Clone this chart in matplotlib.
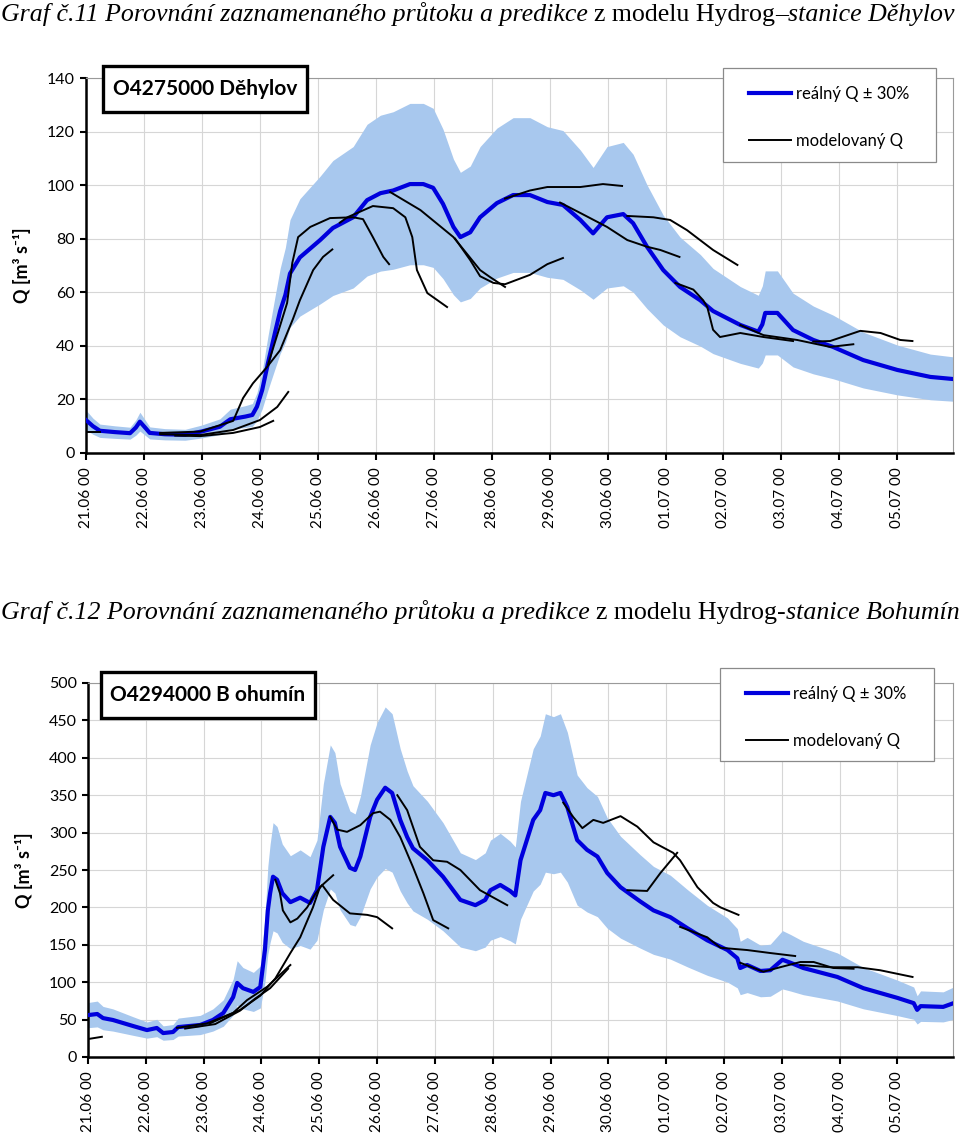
import matplotlib
matplotlib.use("Agg")
import numpy as np
import matplotlib.pyplot as plt
from matplotlib.patches import Rectangle
from matplotlib.lines import Line2D

W, H = 960, 1137

day_labels = ["21.06 00", "22.06 00", "23.06 00", "24.06 00", "25.06 00",
              "26.06 00", "27.06 00", "28.06 00", "29.06 00", "30.06 00",
              "01.07 00", "02.07 00", "03.07 00", "04.07 00", "05.07 00"]

# --- Děhylov: measured Q (days since 21.06 00:00, m3/s)
deh_t = [0.00, 0.12, 0.24, 0.50, 0.76, 0.86, 0.93, 1.02, 1.10, 1.36, 1.71, 1.99,
         2.31, 2.49, 2.75, 2.87, 2.95, 3.04, 3.14, 3.26, 3.35, 3.44, 3.52, 3.69,
         4.04, 4.26, 4.61, 4.85, 5.08, 5.30, 5.59, 5.82, 5.99, 6.16, 6.34, 6.46,
         6.63, 6.80, 7.09, 7.37, 7.66, 7.96, 8.23, 8.53, 8.75, 8.99, 9.27, 9.44,
         9.68, 9.96, 10.25, 10.60, 10.82, 11.29, 11.60, 11.67, 11.72, 11.93, 12.07,
         12.20, 12.55, 12.89, 13.41, 14.00, 14.57, 14.97]
deh_q = [12.3, 10.0, 8.3, 7.8, 7.4, 9.5, 11.7, 9.5, 7.5, 7.0, 6.8, 8.0,
         9.8, 12.6, 13.6, 14.2, 17.3, 23.5, 33.6, 44.8, 53.0, 59.0, 67.0, 73.0,
         79.5, 84.0, 88.0, 94.4, 97.0, 98.0, 100.4, 100.4, 99.0, 93.0, 84.4, 80.6,
         82.4, 88.0, 93.3, 96.3, 96.3, 93.7, 92.6, 87.0, 82.0, 88.0, 89.2, 85.8,
         77.0, 68.3, 62.0, 57.0, 53.0, 47.8, 45.3, 48.0, 52.3, 52.3, 49.0,
         45.9, 42.2, 39.6, 34.7, 31.0, 28.4, 27.6]

# --- Děhylov: model runs (t, Q)
deh_run1 = [(0.00, 7.8), (0.24, 7.8)]
deh_run2 = [(1.28, 7.5), (1.97, 8.0), (2.54, 12.0), (2.71, 20.5), (2.88, 26.0), (3.12, 32.0),
            (3.35, 38.4), (3.57, 50.0), (3.69, 57.0), (3.92, 68.3), (4.09, 73.2), (4.25, 76.0)]
deh_run3 = [(1.28, 7.0), (1.97, 6.7), (2.54, 8.6), (3.00, 12.3), (3.30, 17.2), (3.49, 22.8)]
deh_run4 = [(1.54, 6.5), (1.97, 6.3), (2.54, 7.5), (3.00, 9.7), (3.23, 12.0)]
deh_run5 = [(3.14, 33.0), (3.31, 44.8), (3.47, 56.0), (3.56, 71.0), (3.66, 80.6), (3.87, 84.4),
            (4.21, 87.7), (4.61, 88.0), (4.78, 87.3), (4.95, 80.6), (5.13, 73.2), (5.23, 70.5)]
deh_run6 = [(4.38, 86.0), (4.51, 88.0), (4.95, 92.2), (5.30, 91.4), (5.51, 88.0), (5.63, 80.6),
            (5.71, 68.3), (5.89, 59.7), (6.23, 54.5)]
deh_run7 = [(5.25, 97.4), (5.77, 90.7), (6.34, 80.6), (6.80, 68.3), (6.97, 65.7), (7.23, 62.0)]
deh_run8 = [(6.37, 80.0), (6.63, 72.0), (6.80, 66.0), (7.03, 63.5), (7.23, 63.0), (7.66, 66.5),
            (7.96, 70.5), (8.23, 72.8)]
deh_run9 = [(7.23, 95.0), (7.32, 95.6), (7.66, 98.0), (7.96, 99.3), (8.53, 99.3), (8.92, 100.4),
            (9.25, 99.7)]
deh_run10 = [(8.18, 93.5), (8.53, 89.6), (8.99, 84.4), (9.34, 79.5), (9.68, 77.0), (9.91, 75.8),
             (10.24, 73.2)]
deh_run11 = [(9.34, 88.5), (9.79, 88.0), (10.08, 87.0), (10.37, 83.2), (10.82, 75.8), (11.24, 70.2)]
deh_run12 = [(10.17, 63.5), (10.48, 61.0), (10.65, 57.0), (10.72, 54.5), (10.82, 46.0),
             (10.94, 43.3), (11.29, 44.8), (11.69, 43.3), (12.20, 41.8)]
deh_run13 = [(11.29, 47.8), (11.69, 44.0), (12.27, 42.2), (12.84, 39.6), (13.24, 40.6)]
deh_run14 = [(12.55, 41.6), (12.84, 41.8), (13.36, 45.6), (13.71, 44.8), (14.05, 42.2), (14.26, 41.8)]

# --- Bohumín: measured Q
boh_t = [0.00, 0.16, 0.26, 0.43, 0.78, 1.02, 1.19, 1.30, 1.47, 1.56, 1.94, 2.16,
         2.34, 2.51, 2.58, 2.68, 2.86, 2.98, 3.06, 3.11, 3.15, 3.20, 3.27, 3.36,
         3.50, 3.67, 3.84, 3.96, 4.07, 4.19, 4.27, 4.36, 4.53, 4.62, 4.71, 4.88,
         5.00, 5.14, 5.26, 5.40, 5.52, 5.62, 5.87, 6.14, 6.44, 6.70, 6.87, 6.96,
         7.13, 7.30, 7.39, 7.48, 7.70, 7.82, 7.91, 8.05, 8.17, 8.29, 8.46, 8.63,
         8.81, 8.98, 9.21, 9.55, 9.78, 10.07, 10.37, 10.71, 11.06, 11.23, 11.28,
         11.40, 11.63, 11.80, 12.01, 12.15, 12.37, 12.96, 13.41, 14.00, 14.28,
         14.34, 14.40, 14.79, 14.97]
boh_q = [56, 57.5, 52, 49.5, 41.4, 36, 38.8, 32, 33.4, 40, 42.8, 49.5,
         58.8, 80, 99, 92, 87, 93.6, 143, 196, 219, 241, 237, 219,
         207, 213, 206, 223, 281, 321, 313, 281, 253, 250, 268, 321,
         344, 360, 353, 317, 294, 279, 263, 241, 210, 203, 210, 223,
         230, 222, 216, 263, 317, 330, 353, 350, 353, 334, 290, 277,
         268, 246, 227, 208, 196, 187, 172, 156, 143, 132, 119,
         123, 115, 116, 130, 126, 119, 107, 92, 79, 72,
         63, 68, 67, 72]

# --- Bohumín: model runs
boh_run1 = [(0.00, 24), (0.24, 27)]
boh_run2 = [(1.54, 39), (2.06, 45), (2.51, 59), (2.75, 76), (3.10, 94), (3.50, 123)]
boh_run3 = [(1.68, 38), (2.20, 44), (2.63, 62), (2.89, 78), (3.15, 92), (3.46, 118)]
boh_run4 = [(2.11, 45), (2.63, 63), (2.98, 82), (3.24, 105), (3.50, 139), (3.67, 160),
            (3.89, 200), (4.01, 227), (4.24, 243)]
boh_run5 = [(3.24, 237), (3.32, 219), (3.37, 196), (3.50, 180), (3.62, 185), (3.79, 200),
            (3.93, 218), (4.05, 230), (4.24, 210), (4.53, 192), (4.83, 190), (5.00, 187),
            (5.26, 172)]
boh_run6 = [(4.19, 321), (4.31, 304), (4.48, 301), (4.71, 310), (4.93, 326), (5.05, 328),
            (5.23, 317), (5.40, 294), (5.62, 254), (5.80, 219), (5.97, 183), (6.23, 172)]
boh_run7 = [(5.35, 350), (5.52, 330), (5.74, 281), (5.97, 263), (6.21, 261), (6.44, 250),
            (6.78, 223), (7.25, 203)]
boh_run8 = [(8.22, 340), (8.39, 321), (8.55, 306), (8.74, 317), (8.91, 313), (9.21, 322),
            (9.50, 308), (9.78, 287), (10.12, 273), (10.24, 263), (10.54, 227), (10.81, 206),
            (10.94, 200), (11.25, 190)]
boh_run9 = [(9.33, 223), (9.67, 222), (9.90, 246), (10.19, 273)]
boh_run10 = [(10.24, 174), (10.71, 160), (10.94, 146), (11.40, 143), (11.80, 139), (12.23, 135)]
boh_run11 = [(11.28, 126), (11.68, 114), (11.97, 120), (12.32, 127), (12.55, 127), (12.89, 119),
             (13.24, 118)]
boh_run12 = [(12.32, 123), (12.84, 120), (13.31, 120), (13.70, 116), (14.26, 107)]

deh_runs = [deh_run1, deh_run2, deh_run3, deh_run4, deh_run5, deh_run6, deh_run7,
            deh_run8, deh_run9, deh_run10, deh_run11, deh_run12, deh_run13, deh_run14]
boh_runs = [boh_run1, boh_run2, boh_run3, boh_run4, boh_run5, boh_run6, boh_run7,
            boh_run8, boh_run9, boh_run10, boh_run11, boh_run12]

BAND = "#a8c8ee"
BLUE = "#0000dd"

plt.rcParams["font.family"] = ["Lato", "DejaVu Sans"]
fig = plt.figure(figsize=(W / 100, H / 100), dpi=100)


def fx(px):
    return px / W


def fy(py):
    return 1 - py / H


def draw_panel(rect, t, q, runs, ymax, ystep):
    left, top, right, bottom = rect
    ax = fig.add_axes([fx(left), fy(bottom), fx(right - left), (bottom - top) / H])
    t = np.array(t)
    q = np.array(q, dtype=float)
    ax.fill_between(t, 0.7 * q, 1.3 * q, color=BAND, lw=0, zorder=1)
    ax.plot(t, q, color=BLUE, lw=3.0, zorder=3)
    for run in runs:
        rt, rq = zip(*run)
        ax.plot(rt, rq, color="black", lw=1.4, zorder=4)
    ax.set_xlim(0, 14.96)
    ax.set_ylim(0, ymax)
    ax.set_xticks(range(len(day_labels)))
    ax.set_xticklabels(day_labels, rotation=90, fontsize=11)
    ax.set_yticks(np.arange(0, ymax + 1, ystep))
    ax.tick_params(axis="y", labelsize=11.5, length=4, width=1.5, pad=4)
    ax.tick_params(axis="x", length=5, width=1.5, pad=5)
    ax.set_axisbelow(True)
    ax.grid(True, color="#d6d6d6", lw=0.8)
    for side in ["top", "right"]:
        ax.spines[side].set_color("#9a9a9a")
        ax.spines[side].set_linewidth(0.8)
    for side in ["left", "bottom"]:
        ax.spines[side].set_linewidth(1.8)
    ax.set_ylabel("Q [m³ s⁻¹]", fontsize=13, fontweight="bold")
    ax.yaxis.set_label_coords(-0.064, 0.5)
    return ax


def station_box(x0, y0, x1, y1, label):
    fig.add_artist(Rectangle((fx(x0), fy(y1)), fx(x1 - x0), (y1 - y0) / H,
                             transform=fig.transFigure, facecolor="white",
                             edgecolor="black", lw=2.4, zorder=10))
    fig.text(fx((x0 + x1) / 2), fy((y0 + y1) / 2), label, ha="center", va="center",
             fontsize=15, fontweight="bold", zorder=11)


def legend_box(x0, y0, x1, y1):
    fig.add_artist(Rectangle((fx(x0), fy(y1)), fx(x1 - x0), (y1 - y0) / H,
                             transform=fig.transFigure, facecolor="white",
                             edgecolor="#8a8a8a", lw=0.9, zorder=10))
    ya, yb = y0 + 25, y0 + 72
    fig.add_artist(Line2D([fx(x0 + 26), fx(x0 + 68)], [fy(ya), fy(ya)], color=BLUE,
                          lw=3.0, transform=fig.transFigure, zorder=11))
    fig.add_artist(Line2D([fx(x0 + 26), fx(x0 + 68)], [fy(yb), fy(yb)], color="black",
                          lw=1.4, transform=fig.transFigure, zorder=11))
    fig.text(fx(x0 + 73), fy(ya + 1), "reálný Q ± 30%", va="center", fontsize=12, zorder=11)
    fig.text(fx(x0 + 73), fy(yb + 1), "modelovaný Q", va="center", fontsize=12, zorder=11)


def mixed_title(x, y, parts, size):
    renderer = fig.canvas.get_renderer()
    cur = fx(x)
    for txt, style in parts:
        t = fig.text(cur, fy(y), txt, fontsize=size, style=style, va="baseline",
                     family=["Liberation Serif", "DejaVu Serif"])
        bb = t.get_window_extent(renderer=renderer)
        cur += bb.width / W


draw_panel((86, 78, 953, 453), deh_t, deh_q, deh_runs, 140, 20)
draw_panel((88, 683, 953, 1057), boh_t, boh_q, boh_runs, 500, 50)

station_box(103, 66, 307, 112, "O4275000 Děhylov")
station_box(101, 672, 315, 718, "O4294000 B ohumín")
legend_box(723, 68, 936, 162)
legend_box(720, 668, 934, 761)

mixed_title(1, 21, [("Graf č.11 Porovnání zaznamenaného průtoku a predikce ", "italic"),
                    ("z modelu Hydrog", "normal"),
                    ("–stanice Děhylov", "italic")], 18.6)
mixed_title(1, 619, [("Graf č.12 Porovnání zaznamenaného průtoku a predikce ", "italic"),
                     ("z modelu Hydrog-", "normal"),
                     ("stanice Bohumín", "italic")], 18.6)

fig.savefig("out.png", dpi=100)
